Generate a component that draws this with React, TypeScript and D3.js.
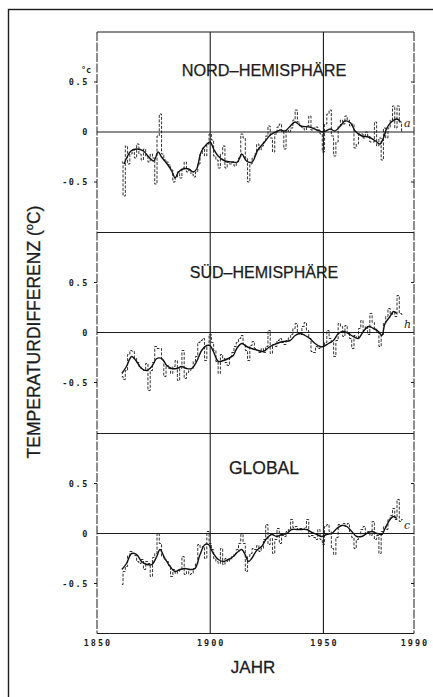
import React from 'react';
import * as d3 from 'd3';

// annual anomalies (°C), 1861..1985
const firstYear = 1861;

const nhAnnual = [
  -0.30, -0.64, -0.14, -0.32, -0.22, -0.18, -0.26, -0.12, -0.22, -0.28,
  -0.17, -0.24, -0.30, -0.22, -0.26, -0.52, -0.04, 0.18, -0.22, -0.28,
  -0.30, -0.33, -0.38, -0.50, -0.45, -0.40, -0.46, -0.36, -0.30, -0.40,
  -0.38, -0.42, -0.45, -0.40, -0.32, -0.22, -0.16, -0.24, -0.12, -0.02,
  -0.08, -0.24, -0.28, -0.36, -0.22, -0.14, -0.36, -0.30, -0.32, -0.30,
  -0.34, -0.30, -0.26, -0.02, -0.06, -0.26, -0.50, -0.32, -0.26, -0.22,
  -0.12, -0.18, -0.14, -0.10, -0.04, 0.06, -0.06, -0.20, -0.02, 0.05,
  0.08, 0.00, -0.17, 0.02, 0.00, 0.04, 0.12, 0.22, 0.10, 0.06,
  0.04, 0.02, 0.06, 0.16, 0.02, 0.04, 0.05, 0.02, -0.02, -0.20,
  0.08, 0.18, 0.22, -0.04, -0.24, -0.10, 0.06, 0.12, 0.08, 0.16,
  0.12, 0.06, 0.08, -0.16, -0.12, -0.02, -0.02, -0.06, 0.00, -0.04,
  -0.10, -0.10, 0.10, -0.14, -0.06, -0.28, 0.04, -0.06, 0.04, 0.12,
  0.26, 0.04, 0.26, 0.10, 0.00,
];

const shAnnual = [
  -0.44, -0.47, -0.38, -0.22, -0.18, -0.19, -0.26, -0.30, -0.34, -0.36,
  -0.38, -0.31, -0.58, -0.38, -0.30, -0.14, -0.16, -0.16, -0.28, -0.44,
  -0.33, -0.36, -0.41, -0.34, -0.28, -0.48, -0.36, -0.18, -0.46, -0.40,
  -0.38, -0.36, -0.29, -0.24, -0.10, -0.08, -0.06, -0.28, -0.13, -0.02,
  -0.10, -0.18, -0.29, -0.41, -0.22, -0.26, -0.30, -0.33, -0.24, -0.20,
  -0.14, -0.10, -0.06, -0.03, -0.12, -0.18, -0.28, -0.13, -0.09, -0.16,
  -0.18, -0.20, -0.16, -0.20, -0.14, 0.02, -0.21, -0.12, -0.14, -0.08,
  -0.06, -0.10, -0.12, -0.08, -0.05, -0.02, 0.04, 0.09, 0.00, -0.02,
  0.06, 0.10, 0.02, -0.06, -0.19, -0.20, -0.14, -0.16, -0.14, -0.14,
  -0.10, 0.02, -0.06, -0.10, -0.24, -0.08, 0.09, 0.06, -0.04, 0.07,
  0.00, -0.06, -0.16, -0.03, -0.06, 0.04, 0.12, 0.02, 0.06, -0.02,
  0.19, 0.10, 0.04, 0.00, -0.14, -0.02, 0.09, 0.16, 0.24, 0.18,
  0.20, 0.16, 0.37, 0.19, 0.18,
];

const glAnnual = [
  -0.51, -0.38, -0.33, -0.22, -0.18, -0.20, -0.22, -0.28, -0.30, -0.26,
  -0.36, -0.28, -0.30, -0.43, -0.24, -0.20, 0.00, -0.10, -0.23, -0.26,
  -0.28, -0.32, -0.43, -0.36, -0.40, -0.38, -0.36, -0.23, -0.41, -0.38,
  -0.41, -0.40, -0.35, -0.30, -0.11, -0.14, -0.13, -0.25, 0.02, -0.10,
  -0.16, -0.25, -0.28, -0.30, -0.15, -0.31, -0.25, -0.28, -0.26, -0.23,
  -0.20, -0.16, -0.10, -0.01, -0.10, -0.38, -0.23, -0.20, -0.15, -0.16,
  -0.12, -0.18, -0.15, -0.06, 0.09, -0.11, -0.05, -0.20, -0.06, 0.05,
  -0.10, -0.02, -0.03, 0.02, 0.04, 0.14, 0.06, 0.07, 0.04, 0.05,
  0.04, 0.06, 0.14, -0.03, -0.02, -0.04, -0.06, 0.04, -0.06, -0.11,
  0.07, 0.09, 0.02, -0.15, -0.21, -0.04, 0.09, 0.08, 0.10, 0.07,
  0.10, 0.00, -0.04, -0.15, -0.06, -0.03, 0.04, 0.07, 0.00, 0.02,
  -0.02, 0.12, -0.06, -0.02, -0.20, 0.02, 0.07, 0.04, 0.14, 0.18,
  0.25, 0.14, 0.34, 0.12, 0.14,
];

// smoothed curves, [year, °C]
const nhSmooth: [number, number][] = [
  [1862, -0.32], [1863.5, -0.24], [1865, -0.19], [1867.5, -0.17], [1870.5, -0.19],
  [1872.5, -0.24], [1875, -0.29], [1877, -0.2], [1878.5, -0.25], [1881, -0.32],
  [1883, -0.39], [1884.5, -0.46], [1886, -0.4], [1888, -0.37], [1890.5, -0.37],
  [1892.5, -0.4], [1894, -0.37], [1896, -0.2], [1898.5, -0.12], [1900, -0.1],
  [1901.5, -0.17], [1903.5, -0.24], [1906.5, -0.29], [1909.5, -0.3], [1912, -0.3],
  [1914, -0.22], [1916, -0.29], [1918.5, -0.3], [1921, -0.18], [1924, -0.1],
  [1926.5, -0.03], [1929, 0.0], [1931, 0.02], [1933, 0.01], [1935, 0.05],
  [1937.5, 0.1], [1940, 0.06], [1944, 0.05], [1947, 0.02], [1950, 0.0],
  [1953, 0.03], [1955, 0.01], [1957.5, 0.06], [1959.5, 0.11], [1962, 0.09],
  [1964, 0.01], [1967, -0.04], [1970, -0.05], [1973, -0.09], [1975, -0.12],
  [1976.5, -0.06], [1978, 0.04], [1980, 0.1], [1982.5, 0.13], [1984, 0.1],
];

const shSmooth: [number, number][] = [
  [1861, -0.41], [1863, -0.34], [1865.3, -0.24], [1867.5, -0.29], [1869.7, -0.36],
  [1872, -0.38], [1874.2, -0.34], [1876.4, -0.26], [1878.6, -0.26], [1880.8, -0.33],
  [1883, -0.36], [1885.2, -0.36], [1887.4, -0.34], [1889.6, -0.36], [1891.8, -0.36],
  [1894, -0.29], [1896.2, -0.18], [1898.5, -0.13], [1899.9, -0.13], [1901.4, -0.19],
  [1903.6, -0.29], [1905.8, -0.28], [1908, -0.26], [1910.2, -0.23], [1911.7, -0.16],
  [1913.9, -0.11], [1916.1, -0.14], [1918.3, -0.16], [1921.3, -0.18], [1923.5, -0.19],
  [1926.4, -0.14], [1929.4, -0.11], [1932.3, -0.09], [1935.3, -0.08], [1937.5, -0.03],
  [1939.7, -0.01], [1941.9, -0.03], [1944, -0.06], [1946.3, -0.11], [1948.5, -0.14],
  [1950, -0.14], [1952.2, -0.11], [1954.4, -0.08], [1956.6, -0.01], [1958.8, 0.01],
  [1961, -0.01], [1963.2, -0.04], [1965.4, -0.06], [1967.6, 0.01], [1969.9, 0.06],
  [1972.1, 0.04], [1974.3, 0.01], [1975.8, -0.03], [1977.2, 0.09], [1979.4, 0.16],
  [1980.9, 0.21], [1982.4, 0.19],
];

const glSmooth: [number, number][] = [
  [1861, -0.36], [1863, -0.3], [1865.3, -0.2], [1867.5, -0.21], [1869.7, -0.28],
  [1872, -0.31], [1874.2, -0.31], [1876.4, -0.23], [1877.8, -0.16], [1880, -0.25],
  [1882.3, -0.33], [1884.5, -0.38], [1886.7, -0.36], [1888.9, -0.35], [1891.1, -0.36],
  [1893.3, -0.35], [1895.5, -0.21], [1897.7, -0.11], [1899.2, -0.11], [1901.4, -0.2],
  [1903.6, -0.26], [1905.8, -0.28], [1908, -0.26], [1910.2, -0.23], [1912.4, -0.18],
  [1913.9, -0.16], [1915.4, -0.21], [1916.9, -0.28], [1918.3, -0.25], [1920.5, -0.17],
  [1922.7, -0.13], [1924.9, -0.05], [1927.2, -0.01], [1929.4, -0.03], [1931.6, -0.01],
  [1933.8, 0.0], [1936, 0.04], [1938.2, 0.04], [1940.4, 0.04], [1942.6, 0.04],
  [1944.9, 0.01], [1947.1, -0.01], [1949.3, -0.03], [1951.4, -0.01], [1953.7, 0.0],
  [1955.9, 0.05], [1958.1, 0.08], [1960.3, 0.07], [1962.5, 0.02], [1964.7, -0.03],
  [1966.9, -0.03], [1969.1, 0.0], [1971.4, 0.02], [1973.6, 0.0], [1975.8, -0.01],
  [1977.2, 0.05], [1979.4, 0.14], [1980.9, 0.17], [1982.4, 0.15],
];

const panelTitles = ['NORD\u2013HEMISPHÄRE', 'SÜD\u2013HEMISPHÄRE', 'GLOBAL'];
const curveLetters = ['a', 'h', 'c'];
const yearTicks = [1850, 1900, 1950, 1990];
const gridYears = [1900, 1950];
const tempTicks = [0.5, 0, -0.5];

const annualSets = [nhAnnual, shAnnual, glAnnual];
const smoothSets = [nhSmooth, shSmooth, glSmooth];

const W = 433;
const H = 697;
const panelTop = [32, 232.5, 433.5];
const panelH = 200;
const ink = '#1c1c1c';
const mono = '"DejaVu Sans Mono", monospace';
const sans = '"Liberation Sans", Arial, sans-serif';

const x = d3.scaleLinear().domain([1850, 1990]).range([97, 414]);

const Panel = ({ i }: { i: number }) => {
  const top = panelTop[i];
  const y = d3.scaleLinear().domain([-1, 1]).range([top + panelH, top]);
  const annual = annualSets[i].map((v, k) => [firstYear + k, v] as [number, number]);

  const stepLine = d3.line<[number, number]>()
    .x(d => x(d[0]))
    .y(d => y(d[1]))
    .curve(d3.curveStep);
  const smoothLine = d3.line<[number, number]>()
    .x(d => x(d[0]))
    .y(d => y(d[1]))
    .curve(d3.curveCatmullRom.alpha(0.5));

  const titleSize = [16.3, 16, 17.5][i];
  const titleY = [76, 277.5, 474][i];

  return (
    <g>
      {/* zero line */}
      <line x1={x(1850)} x2={x(1990)} y1={y(0)} y2={y(0)} stroke={ink} strokeWidth={1.1} />
      {/* y ticks + labels */}
      {tempTicks.map(t => (
        <g key={t}>
          {t !== 0 && <line x1={x(1850) - 3} x2={x(1850)} y1={y(t)} y2={y(t)} stroke={ink} strokeWidth={1} />}
          {t !== 0 && <line x1={x(1990) - 3} x2={x(1990)} y1={y(t)} y2={y(t)} stroke={ink} strokeWidth={1} />}
          <text x={89} y={y(t) + 3} textAnchor="end" fontFamily={mono} fontWeight="bold"
            fontSize={8.5} letterSpacing={1.6} fill={ink}>
            {t === 0 ? '0' : t > 0 ? '0.5' : '-0.5'}
          </text>
        </g>
      ))}
      {i === 0 && (
        <text x={81} y={73} fontFamily={mono} fontWeight="bold" fontSize={8.5} fill={ink}>°c</text>
      )}
      <text x={264} y={titleY} textAnchor="middle" fontFamily={sans} fontSize={titleSize}
        fill={ink} stroke={ink} strokeWidth={0.25}>
        {panelTitles[i]}
      </text>
      <path d={stepLine(annual) || ''} fill="none" stroke={ink} strokeWidth={0.9} strokeDasharray="3 1.5" />
      <path d={smoothLine(smoothSets[i]) || ''} fill="none" stroke="#111" strokeWidth={1.4} />
      <text x={x(1985.6)} y={y(0) - 5} fontFamily='"DejaVu Serif", serif' fontStyle="italic"
        fontSize={11} fill={ink}>
        {curveLetters[i]}
      </text>
    </g>
  );
};

export default function App() {
  const bottom = panelTop[2] + panelH;
  return (
    <svg width={W} height={H} viewBox={`0 0 ${W} ${H}`}
      style={{ position: 'absolute', left: 0, top: 0, background: '#fff' }}>
      {/* outer frame, cut off at right and bottom */}
      <rect x={8.5} y={9.5} width={440} height={710} fill="none" stroke={ink} strokeWidth={1.4} />

      {/* panel frame */}
      <line x1={x(1850)} x2={x(1850)} y1={panelTop[0]} y2={bottom} stroke={ink} strokeWidth={1} strokeDasharray="9 1.5" />
      <line x1={x(1990)} x2={x(1990)} y1={panelTop[0]} y2={bottom} stroke={ink} strokeWidth={1} strokeDasharray="9 1.5" />
      {[...panelTop, bottom].map(t => (
        <line key={t} x1={x(1850)} x2={x(1990)} y1={t} y2={t} stroke={ink} strokeWidth={1.2} />
      ))}
      {gridYears.map(yr => (
        <line key={yr} x1={x(yr)} x2={x(yr)} y1={panelTop[0]} y2={bottom} stroke={ink} strokeWidth={1.1} />
      ))}

      {[0, 1, 2].map(i => <Panel key={i} i={i} />)}

      {/* x axis labels */}
      {yearTicks.map(yr => (
        <text key={yr} x={x(yr) + 1} y={646} textAnchor="middle" fontFamily={mono} fontWeight="bold"
          fontSize={8.5} letterSpacing={2} fill={ink}>
          {yr}
        </text>
      ))}
      <text x={253} y={673} textAnchor="middle" fontFamily={sans} fontSize={17} fill={ink}
        stroke={ink} strokeWidth={0.3}>
        JAHR
      </text>

      {/* y axis title */}
      <text transform="translate(39.5,332) rotate(-90)" textAnchor="middle" fontFamily={sans}
        fontSize={17.5} fill={ink} stroke={ink} strokeWidth={0.3}>
        TEMPERATURDIFFERENZ (<tspan dy={-7} fontSize={11}>o</tspan><tspan dy={7}>C)</tspan>
      </text>
    </svg>
  );
}
